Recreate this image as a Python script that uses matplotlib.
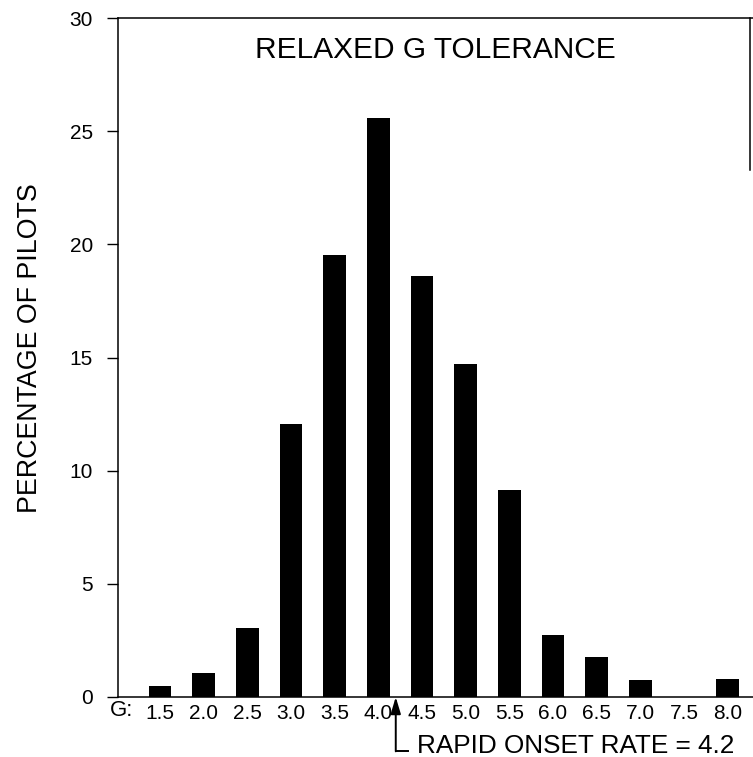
import matplotlib
matplotlib.use("Agg")
import matplotlib.pyplot as plt
import matplotlib.transforms as mtrans

plt.rcParams['font.family'] = ['Liberation Sans', 'DejaVu Sans']

# data
g_levels = [1.5, 2.0, 2.5, 3.0, 3.5, 4.0, 4.5, 5.0, 5.5, 6.0, 6.5, 7.0, 7.5, 8.0]
pct_pilots = [0.5, 1.05, 3.05, 12.05, 19.55, 25.6, 18.6, 14.7, 9.15, 2.75, 1.75, 0.75, 0.0, 0.8]
tick_labels = ['1.5', '2.0', '2.5', '3.0', '3.5', '4.0', '4.5', '5.0', '5.5',
               '6.0', '6.5', '7.0', '7.5', '8.0']
onset_rate = 4.2

fig = plt.figure(figsize=(7.53, 7.57), dpi=100)
ax = fig.add_axes([118/753, 1-697/757, 1-118/753, (697-18)/757])

ax.bar(g_levels, pct_pilots, width=0.26, color='k')

ax.set_xlim(1.02, 8.29)
ax.set_ylim(0, 30)
ax.set_yticks([0, 5, 10, 15, 20, 25, 30])
ax.set_xticks(g_levels)
ax.set_xticklabels(tick_labels)
ax.tick_params(axis='y', direction='out', length=8, width=1.0, pad=10, labelsize=15)
ax.tick_params(axis='x', length=0, pad=5, labelsize=15)

for s in ['left', 'bottom', 'top', 'right']:
    ax.spines[s].set_linewidth(1.1)
ax.spines['right'].set_bounds(23.3, 30)
ax.spines['right'].set_position(('data', 8.26))

ax.text(0.5, 0.953, 'RELAXED G TOLERANCE', transform=ax.transAxes,
        ha='center', va='center', fontsize=21.5)

fig.text(30/753, 1-348/757, 'PERCENTAGE OF PILOTS', rotation=90,
         ha='center', va='center', fontsize=19.3)

# "G:" in front of the tick labels
blend = mtrans.blended_transform_factory(ax.transData, ax.transAxes)
ax.text(0.93, -0.0205, 'G:', transform=blend, ha='left', va='center',
        fontsize=16, clip_on=False)

# arrow marking the rapid onset rate
base_y = -0.08
ax.annotate('', xy=(onset_rate, 0), xycoords=blend,
            xytext=(onset_rate, base_y), textcoords=blend,
            arrowprops=dict(arrowstyle='-|>,head_width=0.3,head_length=1.0',
                            color='k', lw=1.4, shrinkA=0, shrinkB=0))
ax.plot([onset_rate, onset_rate + 0.14], [base_y, base_y], color='k', lw=1.4,
        transform=blend, clip_on=False)
ax.text(onset_rate + 0.24, base_y - 0.003, 'RAPID ONSET RATE = 4.2', transform=blend,
        ha='left', va='baseline', fontsize=18.8, clip_on=False)

fig.savefig('out.png', dpi=100)
